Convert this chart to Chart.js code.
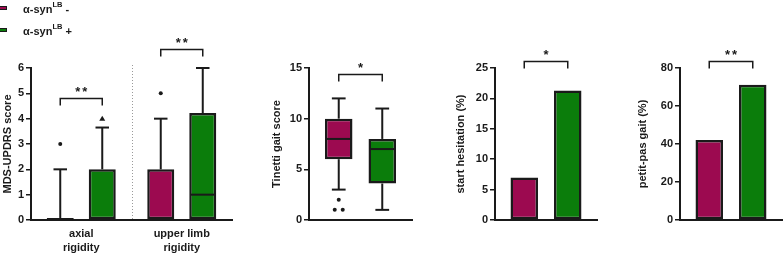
<!DOCTYPE html>
<html>
<head>
<meta charset="utf-8">
<script src="https://cdn.jsdelivr.net/npm/chart.js@4.4.0/dist/chart.umd.min.js"></script>
<style>
  body { margin: 0; background: #fff; }
  #wrap { position: relative; width: 783px; height: 254px; overflow: hidden; font-family: "Liberation Sans", Arial, sans-serif; font-weight: bold; color: #1a1a1a; }
  canvas { position: absolute; top: 0; }
  .legend-item { position: absolute; left: 23px; font-size: 11px; line-height: 13px; white-space: nowrap; }
  .legend-item sup { font-size: 7.5px; position: relative; top: -1px; }
  .swatch { position: absolute; left: -36px; top: 7px; width: 18px; height: 2px; border: 1.5px solid #1a1a1a; }
</style>
</head>
<body>
<div id="wrap">
  <canvas id="rigidity" width="240" height="254" style="left:0"></canvas>
  <canvas id="tinetti" width="180" height="254" style="left:240px"></canvas>
  <canvas id="hesitation" width="180" height="254" style="left:420px"></canvas>
  <canvas id="petitpas" width="183" height="254" style="left:600px"></canvas>
  <div class="legend-item" style="top:-1px"><span class="swatch" style="background:#9C0A50"></span>α-syn<sup>LB</sup> -</div>
  <div class="legend-item" style="top:21px"><span class="swatch" style="background:#0B7D0B"></span>α-syn<sup>LB</sup> +</div>
</div>
<script>
// box plot values: [min, q1, median, q3, max]
const rigidityLabels = [['axial', 'rigidity'], ['upper limb', 'rigidity']];
const rigidityNeg = [[0, 0, 0, 0.08, 2], [0, 0, 0, 2, 4]];
const rigidityPos = [[0, 0, 0, 2, 3.65], [0, 0, 1, 4.22, 6]];
const rigidityNegOut = [[3], [5]];
const rigidityPosOut = [[4], []];

const tinettiNeg = [[3, 6, 8, 10, 12]];
const tinettiPos = [[1, 3.6, 7, 8, 11]];
const tinettiNegOut = [[2, 1, 1]];
const tinettiPosOut = [[]];

const hesitationNeg = [7.0];
const hesitationPos = [21.3];
const petitPasNeg = [42.1];
const petitPasPos = [71.2];

const FONT = '"Liberation Sans", Arial, Helvetica, sans-serif';
const NEG = '#9C0A50', POS = '#0B7D0B', INK = '#1a1a1a';

Chart.defaults.font.family = FONT;
Chart.defaults.font.weight = 'bold';
Chart.defaults.font.size = 11;
Chart.defaults.color = INK;
Chart.defaults.animation = false;

function line(ctx, x1, y1, x2, y2) {
  ctx.beginPath(); ctx.moveTo(x1, y1); ctx.lineTo(x2, y2); ctx.stroke();
}

// whiskers, medians and outliers on top of the floating bars
const boxPlot = {
  id: 'boxPlot',
  afterDatasetsDraw(chart, args, opts) {
    if (!opts.boxes) return;
    const { ctx } = chart, y = chart.scales.y;
    ctx.save();
    ctx.strokeStyle = INK; ctx.fillStyle = INK; ctx.lineWidth = 2;
    opts.boxes.forEach((series, i) => {
      chart.getDatasetMeta(i).data.forEach((bar, j) => {
        const [min, q1, med, q3, max] = series[j];
        const x = bar.x, half = bar.width / 2, cap = bar.width / 4;
        line(ctx, x, y.getPixelForValue(q3), x, y.getPixelForValue(max));
        line(ctx, x - cap, y.getPixelForValue(max), x + cap, y.getPixelForValue(max));
        line(ctx, x, y.getPixelForValue(q1), x, y.getPixelForValue(min));
        line(ctx, x - cap, y.getPixelForValue(min), x + cap, y.getPixelForValue(min));
        line(ctx, x - half + 1, y.getPixelForValue(med), x + half - 1, y.getPixelForValue(med));

        const pts = opts.outliers[i][j] || [];
        const seen = {};
        pts.forEach(v => { seen[v] = (seen[v] || 0) + 1; });
        Object.keys(seen).forEach(v => {
          const n = seen[v], py = y.getPixelForValue(+v);
          for (let k = 0; k < n; k++) {
            const px = x + (k - (n - 1) / 2) * 8;
            ctx.beginPath();
            if (opts.shapes[i] === 'triangle') {
              ctx.moveTo(px, py - 3); ctx.lineTo(px + 3, py + 2); ctx.lineTo(px - 3, py + 2); ctx.closePath();
            } else {
              ctx.arc(px, py, 2, 0, Math.PI * 2);
            }
            ctx.fill();
          }
        });
      });
    });
    ctx.restore();
  }
};

// significance brackets between the two groups
const signif = {
  id: 'signif',
  afterDraw(chart, args, opts) {
    if (!opts.marks) return;
    const { ctx } = chart, y = chart.scales.y;
    ctx.save();
    ctx.strokeStyle = INK; ctx.fillStyle = INK; ctx.lineWidth = 1.5;
    opts.marks.forEach(m => {
      const a = chart.getDatasetMeta(0).data[m.index].x;
      const b = chart.getDatasetMeta(1).data[m.index].x;
      const yy = Math.round(y.getPixelForValue(m.level)) + 0.5;
      ctx.beginPath();
      ctx.moveTo(a, yy + 7); ctx.lineTo(a, yy); ctx.lineTo(b, yy); ctx.lineTo(b, yy + 7);
      ctx.stroke();
      ctx.font = 'bold 13px ' + FONT;
      ctx.textAlign = 'center';
      ctx.textBaseline = 'alphabetic';
      const mid = (a + b) / 2, n = m.label.length;
      for (let k = 0; k < n; k++) {
        ctx.fillText('*', mid + (k - (n - 1) / 2) * 7, yy - 3);
      }
    });
    ctx.restore();
  }
};

// dotted divider between categories
const divider = {
  id: 'divider',
  beforeDatasetsDraw(chart, args, opts) {
    if (!opts.on) return;
    const { ctx } = chart, x = chart.scales.x, y = chart.scales.y;
    const px = Math.round((x.getPixelForValue(0) + x.getPixelForValue(1)) / 2) + 0.5;
    ctx.save();
    ctx.strokeStyle = '#9a9a9a'; ctx.lineWidth = 1; ctx.setLineDash([1, 2]);
    line(ctx, px, y.top - 3, px, y.bottom);
    ctx.restore();
  }
};

function dataset(label, data, color, cat, bar) {
  return {
    label, data, backgroundColor: color, borderColor: INK, borderWidth: 2.5,
    borderSkipped: false, categoryPercentage: cat, barPercentage: bar
  };
}

function panel(id, labels, datasets, o) {
  return new Chart(document.getElementById(id), {
    type: 'bar',
    data: { labels, datasets },
    options: {
      responsive: false,
      layout: { padding: { left: o.padLeft, right: o.padRight, top: 68, bottom: 0 } },
      plugins: {
        legend: { display: false },
        tooltip: { enabled: false },
        boxPlot: o.box || {},
        signif: { marks: o.marks },
        divider: { on: !!o.divider }
      },
      scales: {
        x: {
          grid: { display: false, drawTicks: false },
          border: { display: true, color: INK, width: 2 },
          ticks: { display: !!o.xTicks, padding: 7, maxRotation: 0, autoSkip: false, color: INK, font: { lineHeight: 1.25 } },
          afterFit: s => { s.height = 34; }
        },
        y: {
          min: 0, max: o.max,
          ticks: { stepSize: o.step, padding: 2, color: INK },
          grid: { display: true, drawOnChartArea: false, drawTicks: true, tickLength: 5, color: INK, lineWidth: 1.5 },
          border: { display: true, color: INK, width: 2 },
          title: { display: true, text: o.title, color: INK, padding: 0, font: { size: 11, weight: 'bold' } },
          afterFit: s => { s.width = o.yWidth; }
        }
      }
    },
    plugins: [divider, boxPlot, signif]
  });
}

const boxes = a => a.map(b => [b[1], b[3]]);

panel('rigidity', rigidityLabels, [
  dataset('α-syn LB -', boxes(rigidityNeg), NEG, 0.836, 0.643),
  dataset('α-syn LB +', boxes(rigidityPos), POS, 0.836, 0.643)
], {
  padLeft: 1, padRight: 8, yWidth: 30, max: 6, step: 1, title: 'MDS-UPDRS score', xTicks: true, divider: true,
  box: { boxes: [rigidityNeg, rigidityPos], outliers: [rigidityNegOut, rigidityPosOut], shapes: ['circle', 'triangle'] },
  marks: [{ index: 0, level: 4.8, label: '**' }, { index: 1, level: 6.75, label: '**' }]
});

panel('tinetti', [''], [
  dataset('α-syn LB -', boxes(tinettiNeg), NEG, 0.845, 0.632),
  dataset('α-syn LB +', boxes(tinettiPos), POS, 0.845, 0.632)
], {
  padLeft: 30, padRight: 8, yWidth: 39, max: 15, step: 5, title: 'Tinetti gait score',
  box: { boxes: [tinettiNeg, tinettiPos], outliers: [tinettiNegOut, tinettiPosOut], shapes: ['circle', 'triangle'] },
  marks: [{ index: 0, level: 14.4, label: '*' }]
});

panel('hesitation', [''], [
  dataset('α-syn LB -', hesitationNeg, NEG, 0.853, 0.632),
  dataset('α-syn LB +', hesitationPos, POS, 0.853, 0.632)
], {
  padLeft: 34, padRight: 3, yWidth: 41, max: 25, step: 5, title: 'start hesitation (%)',
  marks: [{ index: 0, level: 26.2, label: '*' }]
});

panel('petitpas', [''], [
  dataset('α-syn LB -', petitPasNeg, NEG, 0.853, 0.632),
  dataset('α-syn LB +', petitPasPos, POS, 0.853, 0.632)
], {
  padLeft: 36, padRight: 1, yWidth: 44, max: 80, step: 20, title: 'petit-pas gait (%)',
  marks: [{ index: 0, level: 83.7, label: '**' }]
});
</script>
</body>
</html>
